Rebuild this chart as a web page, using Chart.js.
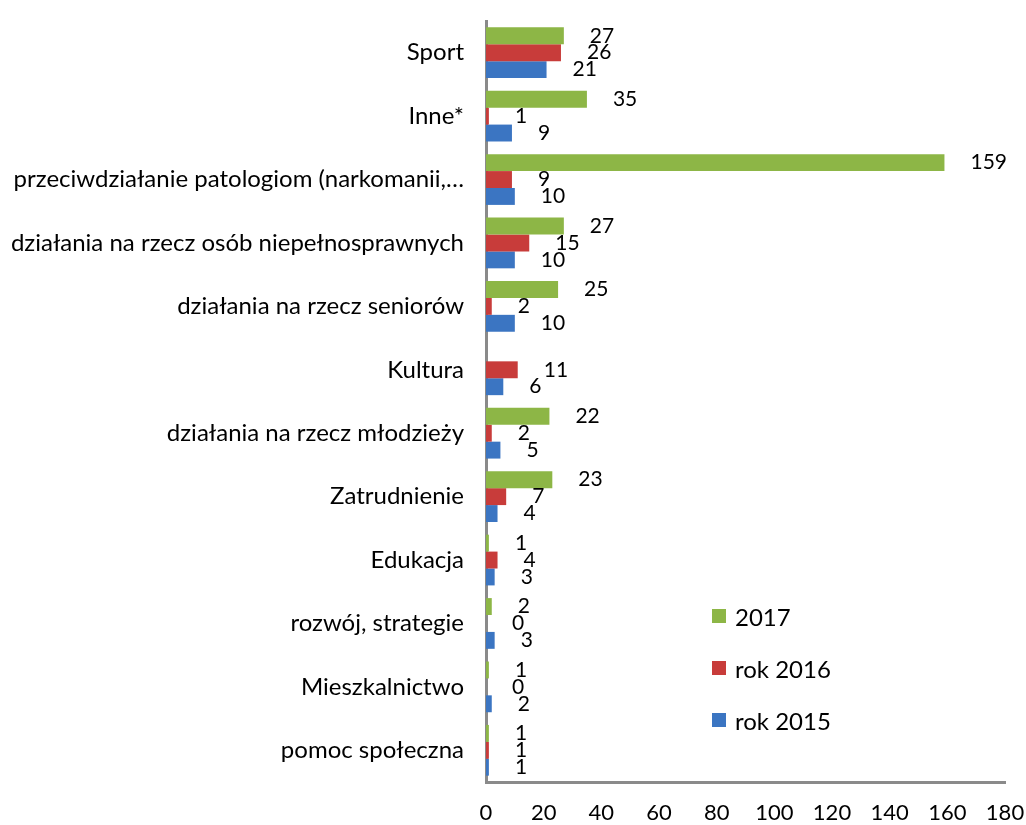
<!DOCTYPE html>
<html>
<head>
<meta charset="utf-8">
<script src="https://cdn.jsdelivr.net/npm/chart.js@4/dist/chart.umd.min.js"></script>
<style>
  body { margin: 0; background: #fff; }
  #wrap { position: relative; width: 1026px; height: 825px; }
  #legend { position: absolute; left: 712px; top: 590px; font-family: Lato, "Open Sans", sans-serif; font-size: 24px; color: #000; }
  #legend div { height: 52px; display: flex; align-items: center; }
  #legend span.box { display: inline-block; width: 14px; height: 14px; margin-right: 9px; }
</style>
</head>
<body>
<div id="wrap">
  <canvas id="chart" width="1026" height="825"></canvas>
  <div id="legend"></div>
</div>
<script>
// kategorie (od góry)
const categories = [
  'Sport',
  'Inne*',
  'przeciwdziałanie patologiom (narkomanii,…',
  'działania na rzecz osób niepełnosprawnych',
  'działania na rzecz seniorów',
  'Kultura',
  'działania na rzecz młodzieży',
  'Zatrudnienie',
  'Edukacja',
  'rozwój, strategie',
  'Mieszkalnictwo',
  'pomoc społeczna'
];

const seriesNames = ['2017', 'rok 2016', 'rok 2015'];
const seriesColors = ['#8db646', '#c83c3a', '#3b75c2'];

const values2017 = [27, 35, 159, 27, 25, null, 22, 23, 1, 2, 1, 1];
const values2016 = [26, 1, 9, 15, 2, 11, 2, 7, 4, 0, 0, 1];
const values2015 = [21, 9, 10, 10, 10, 6, 5, 4, 3, 3, 2, 1];

const xTicks = [0, 20, 40, 60, 80, 100, 120, 140, 160, 180];

const FONT = 'Lato, "Open Sans", sans-serif';

// etykiety wartości przy słupkach
const valueLabels = {
  id: 'valueLabels',
  afterDatasetsDraw(chart) {
    const ctx = chart.ctx;
    ctx.save();
    ctx.font = '21px ' + FONT;
    ctx.fillStyle = '#000';
    ctx.textBaseline = 'middle';
    chart.data.datasets.forEach((ds, i) => {
      chart.getDatasetMeta(i).data.forEach((bar, j) => {
        const v = ds.data[j];
        if (v === null) return;
        ctx.fillText(String(v), bar.x + 26, bar.y);
      });
    });
    ctx.restore();
  }
};

new Chart(document.getElementById('chart'), {
  type: 'bar',
  data: {
    labels: categories,
    datasets: [
      { label: seriesNames[0], data: values2017, backgroundColor: seriesColors[0] },
      { label: seriesNames[1], data: values2016, backgroundColor: seriesColors[1] },
      { label: seriesNames[2], data: values2015, backgroundColor: seriesColors[2] }
    ]
  },
  options: {
    indexAxis: 'y',
    responsive: false,
    animation: false,
    layout: { padding: { top: 21, right: 21, bottom: 0, left: 0 } },
    datasets: { bar: { barPercentage: 1, categoryPercentage: 0.8 } },
    plugins: { legend: { display: false }, tooltip: { enabled: false } },
    scales: {
      x: {
        min: 0, max: 180,
        afterBuildTicks: s => { s.ticks = xTicks.map(v => ({ value: v })); },
        afterFit: s => { s.height = 43; s.paddingLeft = 0; s.paddingRight = 0; },
        grid: { display: false, drawTicks: false },
        border: { color: '#8a8a8a', width: 3 },
        ticks: { color: '#000', font: { family: FONT, size: 22 }, padding: 18 }
      },
      y: {
        grid: { display: false, drawTicks: false },
        border: { color: '#8a8a8a', width: 3 },
        afterFit: s => { s.width = 486; s.paddingTop = 0; s.paddingBottom = 0; },
        ticks: { color: '#000', font: { family: FONT, size: 24 }, padding: 22, autoSkip: false }
      }
    }
  },
  plugins: [valueLabels]
});

// legenda
const legend = document.getElementById('legend');
seriesNames.forEach((name, i) => {
  const row = document.createElement('div');
  row.innerHTML = '<span class="box" style="background:' + seriesColors[i] + '"></span>' + name;
  legend.appendChild(row);
});
</script>
</body>
</html>
